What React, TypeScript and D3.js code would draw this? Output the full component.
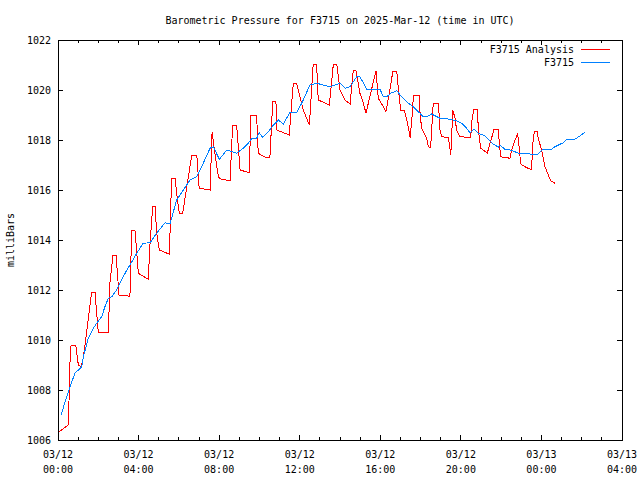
import React from "react";
import * as d3 from "d3";

const title = "Barometric Pressure for F3715 on 2025-Mar-12 (time in UTC)";
const yLabel = "milliBars";
const seriesNames = ["F3715 Analysis", "F3715"];
const seriesColors = ["#ff0000", "#0080ff"];

const yTicks = [1006, 1008, 1010, 1012, 1014, 1016, 1018, 1020, 1022];
const xTickHours = [0, 4, 8, 12, 16, 20, 24, 28];
const xTickDates = ["03/12", "03/12", "03/12", "03/12", "03/12", "03/12", "03/13", "03/13"];
const xTickTimes = ["00:00", "04:00", "08:00", "12:00", "16:00", "20:00", "00:00", "04:00"];

// F3715 Analysis (hours since 03/12 00:00 UTC, mb)
const analysisHours = [
  0.0, 0.51, 0.57, 0.6, 0.65, 0.88, 1.01, 1.14, 1.26, 1.67, 1.84, 1.92, 2.0, 2.5, 2.58, 2.73, 2.88, 3.03, 3.57,
  3.66, 3.82, 3.99, 4.48, 4.57, 4.7, 4.82, 4.9, 5.03, 5.53, 5.64, 5.81, 5.89, 6.02, 6.19, 6.64, 6.89, 7.01, 7.55,
  7.65, 7.71, 7.96, 8.04, 8.54, 8.67, 8.87, 9.04, 9.5, 9.57, 9.86, 9.94, 10.28, 10.52, 10.66, 10.82, 10.86, 11.48,
  11.68, 11.85, 12.18, 12.48, 12.67, 12.84, 12.92, 13.47, 13.67, 13.84, 14.0, 14.25, 14.5, 14.66, 14.79, 14.83,
  14.99, 15.16, 15.29, 15.52, 15.79, 15.9, 16.15, 16.28, 16.45, 16.62, 16.82, 16.9, 17.01, 17.19, 17.39, 17.48,
  17.61, 17.64, 17.94, 17.97, 18.05, 18.3, 18.39, 18.5, 18.63, 18.88, 18.93, 18.96, 19.05, 19.38, 19.5, 19.6,
  19.71, 19.79, 19.96, 20.49, 20.55, 20.65, 20.82, 20.87, 20.98, 21.11, 21.31, 21.45, 21.65, 21.86, 21.91, 21.98,
  22.44, 22.52, 22.69, 22.82, 22.9, 22.97, 23.18, 23.52, 23.55, 23.65, 23.79, 23.84, 24.01, 24.18, 24.34, 24.46,
  24.67,
];
const analysisValues = [
  1006.3, 1006.6, 1008.2, 1009.25, 1009.8, 1009.8, 1009.0, 1008.93, 1009.3, 1011.9, 1011.9, 1011.07, 1010.3,
  1010.3, 1012.3, 1013.4, 1013.4, 1011.8, 1011.75, 1014.4, 1014.4, 1012.67, 1012.43, 1013.87, 1015.33, 1015.33,
  1014.27, 1013.6, 1013.43, 1016.47, 1016.47, 1015.87, 1015.07, 1015.07, 1017.4, 1017.4, 1016.07, 1016.0, 1018.33,
  1017.93, 1016.53, 1016.45, 1016.36, 1018.6, 1018.6, 1016.8, 1016.69, 1019.0, 1019.0, 1017.47, 1017.31, 1017.3,
  1019.53, 1019.53, 1018.4, 1018.2, 1020.27, 1020.27, 1019.2, 1018.6, 1021.04, 1021.04, 1019.6, 1019.4, 1021.04,
  1021.04, 1020.0, 1019.6, 1019.44, 1020.8, 1020.8, 1020.6, 1019.87, 1019.47, 1019.07, 1019.87, 1020.77, 1019.67,
  1019.33, 1019.13, 1019.87, 1020.73, 1020.73, 1020.0, 1019.2, 1019.2, 1018.53, 1018.1, 1019.2, 1019.8, 1019.8,
  1019.13, 1018.47, 1018.07, 1017.73, 1017.7, 1019.47, 1019.47, 1018.93, 1018.4, 1018.13, 1018.1, 1017.4, 1019.2,
  1018.87, 1018.4, 1018.13, 1018.1, 1018.8, 1019.23, 1019.23, 1018.4, 1017.67, 1017.6, 1017.47, 1017.87, 1018.43,
  1018.43, 1017.87, 1017.33, 1017.27, 1017.6, 1018.0, 1018.24, 1017.67, 1017.04, 1016.93, 1016.8, 1017.73,
  1018.33, 1018.33, 1018.07, 1017.6, 1016.93, 1016.6, 1016.37, 1016.27,
];

// F3715 station observations
const stationHours = [
  0.15, 0.51, 0.84, 1.18, 1.26, 1.5, 1.75, 1.92, 2.17, 2.33, 2.5, 2.67, 2.91, 3.08, 3.33, 3.57, 3.91, 4.23, 4.57,
  4.9, 5.31, 5.56, 5.89, 6.22, 6.55, 6.89, 7.21, 7.55, 7.71, 8.01, 8.38, 8.87, 9.2, 9.45, 9.62, 9.86, 9.99, 10.16,
  10.44, 10.69, 10.94, 11.19, 11.52, 11.85, 12.1, 12.51, 12.84, 13.5, 14.0, 14.25, 14.5, 14.83, 14.99, 15.33,
  15.99, 16.15, 16.32, 16.52, 16.82, 17.06, 17.39, 17.64, 17.97, 18.14, 18.38, 18.55, 18.72, 18.96, 19.46, 19.79,
  20.04, 20.29, 20.45, 20.65, 20.87, 21.2, 21.41, 21.61, 21.86, 21.94, 22.19, 22.44, 22.69, 22.85, 23.43, 23.84,
  24.01, 24.51, 24.67, 25.08, 25.25, 25.66, 25.91, 26.16,
];
const stationValues = [
  1007.0, 1007.93, 1008.67, 1008.93, 1009.33, 1010.07, 1010.47, 1010.67, 1010.93, 1011.33, 1011.67, 1011.73,
  1012.0, 1012.27, 1012.67, 1013.0, 1013.47, 1013.87, 1013.89, 1014.27, 1014.69, 1014.64, 1015.6, 1016.0, 1016.4,
  1016.53, 1017.07, 1017.67, 1017.73, 1017.23, 1017.6, 1017.47, 1017.67, 1017.87, 1018.07, 1018.07, 1018.29,
  1018.11, 1018.33, 1018.6, 1018.8, 1018.64, 1019.11, 1019.11, 1019.47, 1020.2, 1020.27, 1020.13, 1020.27,
  1020.07, 1020.13, 1020.53, 1020.53, 1020.03, 1020.03, 1019.73, 1019.73, 1019.87, 1019.97, 1019.73, 1019.47,
  1019.33, 1019.07, 1018.93, 1018.96, 1019.04, 1018.97, 1018.87, 1018.83, 1018.77, 1018.67, 1018.47, 1018.29,
  1018.43, 1018.27, 1018.16, 1018.0, 1017.84, 1017.71, 1017.8, 1017.63, 1017.6, 1017.53, 1017.47, 1017.44,
  1017.44, 1017.6, 1017.63, 1017.73, 1017.89, 1018.03, 1018.03, 1018.16, 1018.31,
];

const W = 640;
const H = 480;
const M = { left: 58, right: 622, top: 40, bottom: 440 };
const FONT = "'DejaVu Sans Mono', 'Liberation Mono', monospace";

export default function App() {
  const x = d3.scaleLinear().domain([0, 28]).range([M.left, M.right]);
  const y = d3.scaleLinear().domain([1006, 1022]).range([M.bottom, M.top]);

  const line = d3
    .line<[number, number]>()
    .x((d) => x(d[0]))
    .y((d) => y(d[1]));

  const analysis: [number, number][] = analysisHours.map((h, i) => [h, analysisValues[i]]);
  const station: [number, number][] = stationHours.map((h, i) => [h, stationValues[i]]);

  const minorHours = d3.range(0, 29, 1).filter((h) => h % 4 !== 0);

  return (
    <svg
      width={W}
      height={H}
      style={{ position: "absolute", left: 0, top: 0, background: "#fff" }}
      fontFamily={FONT}
      fontSize={10}
    >
      <rect x={0} y={0} width={W} height={H} fill="#fff" />
      <text x={340} y={24} textAnchor="middle" fill="#000">
        {title}
      </text>
      <text transform={`translate(14,${240}) rotate(-90)`} textAnchor="middle" fill="#000">
        {yLabel}
      </text>

      <g shapeRendering="crispEdges" stroke="#000" strokeWidth={1}>
        {yTicks.map((t) => (
          <g key={"y" + t}>
            <line x1={M.left} x2={M.left + 5} y1={y(t)} y2={y(t)} />
            <line x1={M.right} x2={M.right - 5} y1={y(t)} y2={y(t)} />
          </g>
        ))}
        {xTickHours.map((h) => (
          <g key={"x" + h}>
            <line x1={x(h)} x2={x(h)} y1={M.bottom} y2={M.bottom - 5} />
            <line x1={x(h)} x2={x(h)} y1={M.top} y2={M.top + 5} />
          </g>
        ))}
        {minorHours.map((h) => (
          <g key={"m" + h}>
            <line x1={x(h)} x2={x(h)} y1={M.bottom} y2={M.bottom - 3} />
            <line x1={x(h)} x2={x(h)} y1={M.top} y2={M.top + 3} />
          </g>
        ))}
      </g>

      {yTicks.map((t) => (
        <text key={"yl" + t} x={M.left - 7} y={y(t) + 4} textAnchor="end" fill="#000">
          {t}
        </text>
      ))}
      {xTickHours.map((h, i) => (
        <g key={"xl" + h}>
          <text x={x(h)} y={458} textAnchor="middle" fill="#000">
            {xTickDates[i]}
          </text>
          <text x={x(h)} y={473} textAnchor="middle" fill="#000">
            {xTickTimes[i]}
          </text>
        </g>
      ))}

      <path
        d={line(analysis) || ""}
        fill="none"
        stroke={seriesColors[0]}
        strokeWidth={1}
        shapeRendering="crispEdges"
      />
      <path
        d={line(station) || ""}
        fill="none"
        stroke={seriesColors[1]}
        strokeWidth={1}
        shapeRendering="crispEdges"
      />

      {seriesNames.map((n, i) => (
        <g key={n}>
          <text x={574} y={53 + i * 13} textAnchor="end" fill="#000">
            {n}
          </text>
          <line
            x1={581}
            x2={610}
            y1={49.5 + i * 13}
            y2={49.5 + i * 13}
            stroke={seriesColors[i]}
            strokeWidth={1}
            shapeRendering="crispEdges"
          />
        </g>
      ))}

      <rect
        x={M.left}
        y={M.top}
        width={M.right - M.left}
        height={M.bottom - M.top}
        fill="none"
        stroke="#000"
        strokeWidth={1}
        shapeRendering="crispEdges"
      />
    </svg>
  );
}
